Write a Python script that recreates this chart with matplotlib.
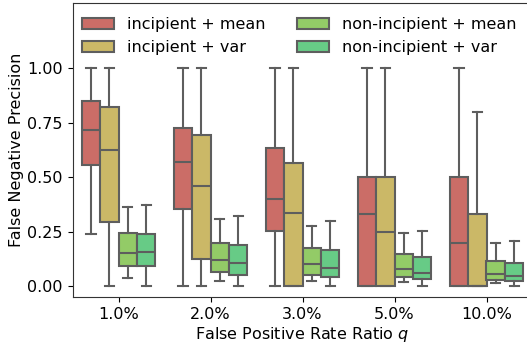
import matplotlib
matplotlib.use("Agg")
import matplotlib.pyplot as plt
from matplotlib.patches import Patch
import seaborn as sns

# FPR ratio groups
ratios = ["1.0%", "2.0%", "3.0%", "5.0%", "10.0%"]
series = ["incipient + mean", "incipient + var",
          "non-incipient + mean", "non-incipient + var"]

# Box statistics per series, one value per ratio group
whislo = {
    "incipient + mean":     [0.239, 0.0, 0.0, 0.0, 0.0],
    "incipient + var":      [0.0, 0.0, 0.0, 0.0, 0.0],
    "non-incipient + mean": [0.035, 0.024, 0.024, 0.018, 0.014],
    "non-incipient + var":  [0.0, 0.0, 0.0, 0.0, 0.0],
}
q1 = {
    "incipient + mean":     [0.555, 0.356, 0.252, 0.0, 0.0],
    "incipient + var":      [0.295, 0.125, 0.0, 0.0, 0.0],
    "non-incipient + mean": [0.093, 0.064, 0.050, 0.041, 0.028],
    "non-incipient + var":  [0.092, 0.049, 0.040, 0.031, 0.023],
}
med = {
    "incipient + mean":     [0.716, 0.570, 0.399, 0.333, 0.200],
    "incipient + var":      [0.627, 0.459, 0.335, 0.250, 0.0],
    "non-incipient + mean": [0.153, 0.118, 0.100, 0.078, 0.055],
    "non-incipient + var":  [0.156, 0.105, 0.084, 0.061, 0.047],
}
q3 = {
    "incipient + mean":     [0.849, 0.728, 0.636, 0.500, 0.500],
    "incipient + var":      [0.822, 0.693, 0.567, 0.500, 0.333],
    "non-incipient + mean": [0.245, 0.200, 0.176, 0.147, 0.116],
    "non-incipient + var":  [0.240, 0.187, 0.165, 0.135, 0.107],
}
whishi = {
    "incipient + mean":     [1.0, 1.0, 1.0, 1.0, 1.0],
    "incipient + var":      [1.0, 1.0, 1.0, 1.0, 0.8],
    "non-incipient + mean": [0.364, 0.307, 0.274, 0.242, 0.199],
    "non-incipient + var":  [0.372, 0.322, 0.298, 0.252, 0.208],
}

base = sns.color_palette("hls", 8)[:4]
colors = [sns.desaturate(c, 0.75) for c in base]
edge = "#5e5e5e"

plt.rcParams["font.family"] = "DejaVu Sans"
fig = plt.figure(figsize=(5.27, 3.45), dpi=100)
ax = fig.add_axes([72.5 / 527, 1 - 297 / 345, 460 / 527, 294 / 345])

n = len(series)
box_w = 0.8 / n
for k, name in enumerate(series):
    offset = -0.4 + box_w * (k + 0.5)
    stats = []
    for i in range(len(ratios)):
        stats.append(dict(whislo=whislo[name][i], q1=q1[name][i], med=med[name][i],
                          q3=q3[name][i], whishi=whishi[name][i], fliers=[]))
    ax.bxp(stats, positions=[i + offset for i in range(len(ratios))],
           widths=box_w, patch_artist=True, showfliers=False, manage_ticks=False,
           boxprops=dict(facecolor=colors[k], edgecolor=edge, linewidth=1.5),
           medianprops=dict(color=edge, linewidth=1.5),
           whiskerprops=dict(color=edge, linewidth=1.5),
           capprops=dict(color=edge, linewidth=1.5))

ax.set_xticks(range(len(ratios)))
ax.set_xticklabels(ratios, fontsize=11.5)
ax.set_xlim(-0.5, len(ratios) - 0.5)
ax.set_ylim(-0.05, 1.30)
ax.set_yticks([0.0, 0.25, 0.5, 0.75, 1.0])
ax.set_yticklabels(["0.00", "0.25", "0.50", "0.75", "1.00"], fontsize=11.5)
ax.set_xlabel("False Positive Rate Ratio $q$", fontsize=11.5, labelpad=2)
ax.set_ylabel("False Negative Precision", fontsize=11.5, labelpad=2)
for s in ax.spines.values():
    s.set_color("#333333")

handles = [Patch(facecolor=colors[k], edgecolor=edge, linewidth=1.5) for k in range(n)]
ax.legend(handles, series, ncol=2, frameon=False, fontsize=11.5,
          loc="upper left", bbox_to_anchor=(-0.011, 1.0))

fig.savefig("out.png", dpi=100)
